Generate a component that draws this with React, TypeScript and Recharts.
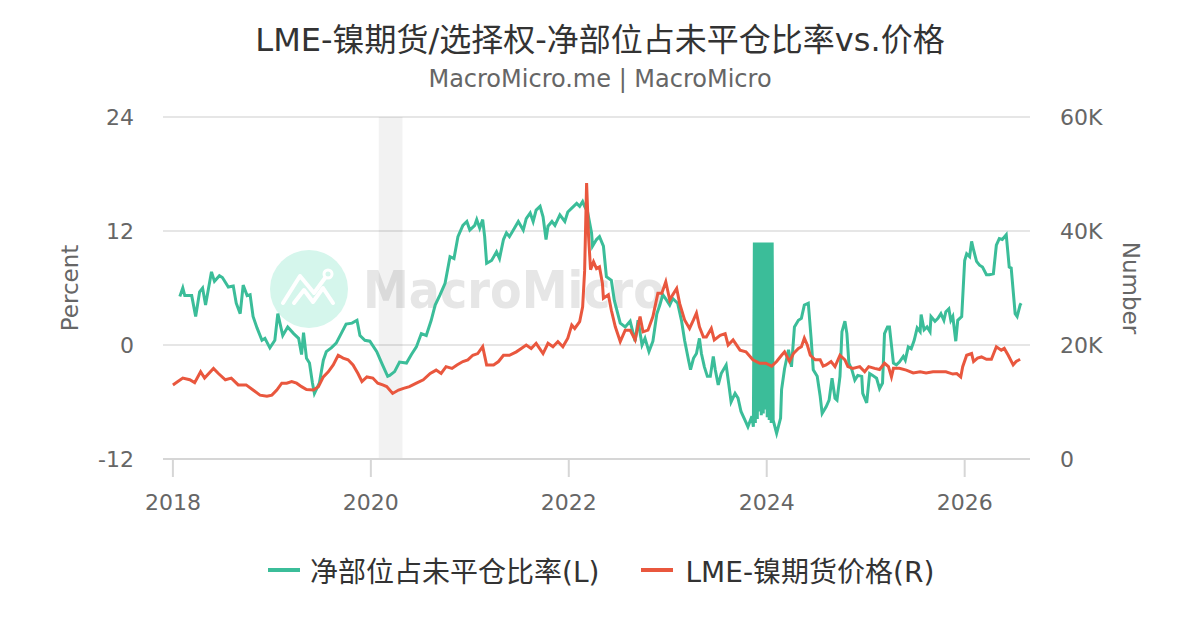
import React from 'react'
import { CartesianGrid, Line, LineChart, ReferenceArea, XAxis, YAxis } from 'recharts'

// 净部位占未平仓比率 (%), dates as decimal years
const netDates = [
  2018.07, 2018.1, 2018.12, 2018.19, 2018.23, 2018.27, 2018.3, 2018.33, 2018.39, 2018.42,
  2018.47, 2018.5, 2018.56, 2018.61, 2018.64, 2018.68, 2018.71, 2018.75, 2018.78, 2018.81,
  2018.85, 2018.9, 2018.93, 2018.98, 2019.03, 2019.06, 2019.11, 2019.16, 2019.22, 2019.27,
  2019.3, 2019.32, 2019.35, 2019.38, 2019.41, 2019.43, 2019.48, 2019.52, 2019.55, 2019.6,
  2019.65, 2019.7, 2019.75, 2019.81, 2019.86, 2019.89, 2019.94, 2019.99, 2020.06, 2020.11,
  2020.17, 2020.19, 2020.24, 2020.29, 2020.36, 2020.41, 2020.46, 2020.51, 2020.56, 2020.61,
  2020.65, 2020.7, 2020.75, 2020.8, 2020.84, 2020.88, 2020.93, 2020.97, 2021.0, 2021.05,
  2021.07, 2021.1, 2021.13, 2021.15, 2021.17, 2021.22, 2021.27, 2021.3, 2021.34, 2021.37,
  2021.4, 2021.44, 2021.49, 2021.54, 2021.57, 2021.61, 2021.64, 2021.67, 2021.71, 2021.74,
  2021.77, 2021.79, 2021.83, 2021.86, 2021.91, 2021.96, 2021.99, 2022.03, 2022.08, 2022.11,
  2022.14, 2022.16, 2022.19, 2022.23, 2022.24, 2022.28, 2022.31, 2022.35, 2022.38, 2022.43,
  2022.46, 2022.52, 2022.57, 2022.62, 2022.67, 2022.7, 2022.74, 2022.77, 2022.81, 2022.85,
  2022.89, 2022.92, 2022.95, 2022.99, 2023.02, 2023.05, 2023.1, 2023.14, 2023.17, 2023.21,
  2023.23, 2023.26, 2023.29, 2023.32, 2023.34, 2023.37, 2023.4, 2023.43, 2023.46, 2023.48,
  2023.51, 2023.54, 2023.59, 2023.62, 2023.64, 2023.68, 2023.71, 2023.74, 2023.78, 2023.81,
  2023.85, 2023.865,
  2023.875, 2023.885, 2023.895, 2023.905, 2023.915, 2023.925, 2023.935, 2023.945, 2023.955,
  2023.965, 2023.975, 2023.985, 2023.995, 2024.005, 2024.015, 2024.025, 2024.035, 2024.045,
  2024.055, 2024.065,
  2024.09, 2024.1, 2024.14, 2024.15, 2024.18, 2024.22, 2024.25, 2024.28, 2024.32, 2024.35,
  2024.38, 2024.42, 2024.45, 2024.47, 2024.51, 2024.54, 2024.56, 2024.6, 2024.63, 2024.66,
  2024.69, 2024.71, 2024.74, 2024.76, 2024.79, 2024.81, 2024.83, 2024.86, 2024.89, 2024.92,
  2024.96, 2024.97, 2025.01, 2025.04, 2025.07, 2025.11, 2025.14, 2025.17, 2025.19, 2025.22,
  2025.24, 2025.28, 2025.31, 2025.34, 2025.38, 2025.4, 2025.43, 2025.46, 2025.49, 2025.52,
  2025.55, 2025.56, 2025.59, 2025.62, 2025.65, 2025.66, 2025.7, 2025.73, 2025.76, 2025.79,
  2025.81, 2025.84, 2025.86, 2025.88, 2025.91, 2025.93, 2025.97, 2026.0, 2026.02, 2026.05,
  2026.07, 2026.09, 2026.12, 2026.15, 2026.18, 2026.22, 2026.25, 2026.29, 2026.32, 2026.35,
  2026.38, 2026.42, 2026.45, 2026.47, 2026.51, 2026.53, 2026.56, 2026.57,
]
const netValues = [
  5.1, 6.0, 5.2, 5.2, 3.0, 5.6, 6.0, 4.2, 7.7, 6.7,
  7.3, 7.1, 6.1, 6.2, 4.4, 3.3, 6.3, 5.2, 5.3, 3.0,
  1.8, 0.5, 0.7, -0.3, 0.5, 3.3, 1.0, 1.9, 1.2, 0.7,
  -1.0, 1.3, -1.4, -1.9, -4.0, -5.1, -4.0, -1.6, -0.7, -0.3,
  0.2, 1.2, 2.2, 2.3, 2.6, 1.0, 0.5, 0.4, -0.7, -1.9,
  -3.3, -3.2, -2.8, -1.8, -1.9, -1.0, -0.2, 1.2, 1.0, 2.6,
  4.2, 5.3, 6.5, 9.3, 9.1, 11.4, 12.6, 13.0, 12.1, 12.6,
  13.2, 12.3, 13.2, 11.4, 8.6, 8.9, 9.8, 9.1, 11.1, 11.8,
  11.4, 12.1, 13.0, 12.1, 13.3, 13.9, 13.0, 14.2, 14.6, 13.5,
  11.1, 12.5, 13.0, 12.6, 13.7, 13.0, 14.0, 14.4, 14.9, 14.6,
  15.1, 14.6, 14.0, 11.8, 10.4, 11.1, 11.4, 10.4, 7.2, 6.8,
  4.7, 2.3, 1.9, 2.5, 0.4, 2.6, 0.0, 0.7, -0.7, 0.4,
  3.3, 4.2, 5.3, 4.7, 4.2, 4.9, 4.4, 2.5, 0.5, -1.6,
  -2.6, -1.4, -0.9, 0.7, -0.9, -2.3, -3.3, -3.3, -1.2, -2.6,
  -4.2, -3.0, -2.1, -4.4, -6.0, -5.1, -5.6, -7.0, -7.9, -8.6,
  -7.5, -8.6,
  10.8, -8.2, 10.8, -7.8, 10.8, -7.0, 10.8, -7.4, 10.8, -7.2,
  10.8, -6.8, 10.8, -7.6, 10.8, -7.9, 10.8, -8.2, 10.8, -7.9,
  -8.9, -9.3, -7.7, -4.7, -2.5, -0.5, -2.3, 1.9, 2.6, 2.8,
  4.2, 4.4, 0.5, -2.6, -3.3, -5.4, -7.2, -6.5, -5.8, -3.5,
  -5.6, -5.8, -3.3, 1.4, 2.5, 1.2, -1.9, -2.6, -3.7, -3.2,
  -3.3, -5.1, -6.1, -3.0, -3.2, -3.5, -4.6, -4.0, 1.2, 1.9,
  1.9, -1.9, -2.1, -1.8, -1.2, -1.6, -0.2, -0.4, 0.5, 1.8,
  1.4, 3.2, 1.6, 1.9, 1.4, 3.0, 2.5, 2.8, 3.3, 2.6,
  3.5, 3.8, 2.6, 3.0, 0.4, 2.6, 3.0, 8.9, 9.6, 9.3,
  10.9, 10.0, 8.8, 8.4, 8.2, 7.4, 7.4, 7.5, 10.5, 11.2,
  11.1, 11.6, 8.2, 8.1, 3.3, 3.0, 4.2, 4.4,
]

// LME-镍期货价格 (USD)
const priceDates = [
  2018.0, 2018.05, 2018.1, 2018.17, 2018.22, 2018.28, 2018.32, 2018.41, 2018.46, 2018.53,
  2018.59, 2018.66, 2018.74, 2018.81, 2018.88, 2018.95, 2019.0, 2019.05, 2019.1, 2019.15,
  2019.2, 2019.25, 2019.3, 2019.35, 2019.42, 2019.47, 2019.52, 2019.57, 2019.62, 2019.67,
  2019.72, 2019.77, 2019.82, 2019.87, 2019.91, 2019.96, 2020.02, 2020.07, 2020.12, 2020.16,
  2020.22, 2020.28, 2020.33, 2020.39, 2020.46, 2020.53, 2020.6, 2020.66, 2020.71, 2020.76,
  2020.82, 2020.87, 2020.93, 2020.98, 2021.03, 2021.08, 2021.13, 2021.17, 2021.24, 2021.29,
  2021.34, 2021.4, 2021.47, 2021.52, 2021.57, 2021.62, 2021.67, 2021.74, 2021.79, 2021.84,
  2021.89, 2021.94, 2021.99, 2022.03, 2022.06, 2022.11, 2022.14, 2022.16, 2022.18, 2022.2,
  2022.22, 2022.25, 2022.28, 2022.31, 2022.34, 2022.35, 2022.4, 2022.43, 2022.47, 2022.52,
  2022.57, 2022.62, 2022.67, 2022.72, 2022.75, 2022.8, 2022.85, 2022.9, 2022.94, 2022.98,
  2023.02, 2023.05, 2023.09, 2023.12, 2023.17, 2023.22, 2023.26, 2023.29, 2023.32, 2023.36,
  2023.39, 2023.44, 2023.47, 2023.53, 2023.58, 2023.61, 2023.66, 2023.73, 2023.79, 2023.86,
  2023.93, 2023.99, 2024.05, 2024.1, 2024.15, 2024.18, 2024.23, 2024.27, 2024.32, 2024.35,
  2024.38, 2024.41, 2024.44, 2024.49, 2024.54, 2024.57, 2024.6, 2024.65, 2024.69, 2024.74,
  2024.79, 2024.82, 2024.87, 2024.94, 2024.99, 2025.03, 2025.09, 2025.14, 2025.19, 2025.23,
  2025.26, 2025.28, 2025.34, 2025.41, 2025.48, 2025.55, 2025.61, 2025.68, 2025.75, 2025.81,
  2025.88, 2025.92, 2025.96, 2025.98, 2026.02, 2026.07, 2026.09, 2026.13, 2026.17, 2026.22,
  2026.27, 2026.32, 2026.37, 2026.4, 2026.44, 2026.49, 2026.52, 2026.56,
]
const priceValues = [
  13000, 13600, 14200, 13900, 13400, 15300, 14200, 15900, 15000, 13900,
  14200, 13000, 13000, 12100, 11200, 11000, 11200, 12100, 13300, 13300,
  13600, 13300, 12700, 12200, 12100, 12700, 14400, 15300, 16500, 18200,
  17700, 17400, 16500, 15000, 13600, 14400, 14200, 13300, 13000, 12700,
  11500, 12100, 12400, 12700, 13300, 13900, 15000, 15600, 15000, 16200,
  15900, 16500, 17100, 17400, 18200, 18500, 19700, 16500, 16500, 17100,
  18200, 18200, 18800, 19400, 20000, 19400, 20300, 18500, 20300, 19700,
  20600, 19700, 21200, 23500, 22900, 24100, 26700, 33000, 48400, 39000,
  33200, 34600, 33400, 33700, 30800, 28200, 28800, 26100, 23200, 20600,
  22600, 22600, 20900, 25000, 22300, 22600, 25000, 29100, 29100, 31100,
  27900, 28800, 29900, 27300, 24400, 22900, 24400, 25600, 23200, 21400,
  21400, 22900, 20900, 21700, 22000, 20000, 20900, 19100, 18800, 17400,
  16800, 16800, 16300, 17100, 18200, 18800, 17100, 18500, 19400, 19700,
  21200, 20000, 18200, 17400, 17400, 16300, 16500, 17100, 16200, 18200,
  17400, 16200, 15900, 16200, 15300, 16200, 15900, 15700, 16800, 16200,
  14400, 15900, 15900, 15600, 15100, 15300, 15100, 15300, 15300, 15300,
  14900, 15000, 14400, 16200, 18200, 18500, 17100, 17700, 17900, 17500,
  17500, 19700, 19100, 19400, 18200, 16500, 17100, 17500,
]

const yearTicks = [2018, 2020, 2022, 2024, 2026]
const percentTicks = [-12, 0, 12, 24]
const numberTicks = [0, 20000, 40000, 60000]

const GREEN = '#3bbd99'
const RED = '#e9573e'
const FONT = "'DejaVu Sans', 'Noto Sans CJK SC', sans-serif"

const netData = netDates.map((x, i) => ({ x, v: netValues[i] }))
const priceData = priceDates.map((x, i) => ({ x, v: priceValues[i] }))

function formatNumber(v: number) {
  return v === 0 ? '0' : `${v / 1000}K`
}

export default function App() {
  const tick = { fontSize: 22, fill: '#666666', fontFamily: FONT }

  return (
    <div
      style={{
        position: 'absolute',
        left: 0,
        top: 0,
        width: 1200,
        height: 630,
        background: '#ffffff',
        fontFamily: FONT,
        overflow: 'hidden',
      }}
    >
      <div style={{ position: 'absolute', top: 14, width: 1200, textAlign: 'center', fontSize: 32, color: '#333333' }}>
        LME-镍期货/选择权-净部位占未平仓比率vs.价格
      </div>
      <div style={{ position: 'absolute', top: 65, width: 1200, textAlign: 'center', fontSize: 24, color: '#666666' }}>
        MacroMicro.me | MacroMicro
      </div>

      {/* watermark, sits under the chart layer */}
      <svg width={1200} height={630} style={{ position: 'absolute', left: 0, top: 0 }}>
        <circle cx={309} cy={289} r={39} fill="#d5f6ec" />
        <polyline
          points="283,303 300,276 314,293 325,278"
          fill="none"
          stroke="#ffffff"
          strokeWidth={4}
          strokeLinecap="round"
          strokeLinejoin="round"
        />
        <polyline
          points="294,303 304,290 313,302 323,288 333,303"
          fill="none"
          stroke="#ffffff"
          strokeWidth={4}
          strokeLinecap="round"
          strokeLinejoin="round"
        />
        <circle cx={328} cy={274} r={4} fill="none" stroke="#ffffff" strokeWidth={3} />
        <text
          x={363}
          y={308}
          fontSize={52}
          fontWeight="bold"
          fill="#e6e6e6"
          fontFamily={FONT}
          textLength={302}
          lengthAdjust="spacingAndGlyphs"
        >
          MacroMicro
        </text>
      </svg>

      <div style={{ position: 'absolute', left: 0, top: 0 }}>
        <LineChart width={1200} height={630} margin={{ top: 117, right: 0, bottom: 0, left: 0 }}>
          <CartesianGrid yAxisId="left" vertical={false} stroke="#e6e6e6" strokeWidth={2} />
          <ReferenceArea
            yAxisId="left"
            x1={2020.08}
            x2={2020.32}
            y1={-12}
            y2={24}
            fill="#000000"
            fillOpacity={0.05}
            stroke="none"
          />
          <XAxis
            dataKey="x"
            type="number"
            domain={[2017.9, 2026.66]}
            ticks={yearTicks}
            allowDataOverflow
            height={171}
            tickSize={18}
            tickMargin={17}
            tick={tick}
            tickLine={{ stroke: '#d6d6d6', strokeWidth: 2 }}
            axisLine={{ stroke: '#d6d6d6', strokeWidth: 2 }}
          />
          <YAxis
            yAxisId="left"
            width={163}
            domain={[-12, 24]}
            ticks={percentTicks}
            tick={tick}
            tickSize={0}
            tickMargin={29}
            axisLine={false}
            tickLine={false}
          />
          <YAxis
            yAxisId="right"
            orientation="right"
            width={170}
            domain={[0, 60000]}
            ticks={numberTicks}
            tickFormatter={formatNumber}
            tick={{ ...tick, textAnchor: 'start' }}
            tickSize={0}
            tickMargin={30}
            axisLine={false}
            tickLine={false}
          />
          <Line
            yAxisId="left"
            data={netData}
            dataKey="v"
            name="净部位占未平仓比率(L)"
            stroke={GREEN}
            strokeWidth={3}
            dot={false}
            isAnimationActive={false}
          />
          <Line
            yAxisId="right"
            data={priceData}
            dataKey="v"
            name="LME-镍期货价格(R)"
            stroke={RED}
            strokeWidth={3}
            dot={false}
            isAnimationActive={false}
          />
        </LineChart>
      </div>

      {/* axis titles */}
      <div
        style={{
          position: 'absolute',
          left: 70,
          top: 288,
          transform: 'translate(-50%, -50%) rotate(-90deg)',
          fontSize: 23,
          color: '#666666',
          whiteSpace: 'nowrap',
        }}
      >
        Percent
      </div>
      <div
        style={{
          position: 'absolute',
          left: 1131,
          top: 288,
          transform: 'translate(-50%, -50%) rotate(90deg)',
          fontSize: 23,
          color: '#666666',
          whiteSpace: 'nowrap',
        }}
      >
        Number
      </div>

      {/* legend */}
      <div
        style={{
          position: 'absolute',
          top: 550,
          left: 268,
          display: 'flex',
          alignItems: 'center',
          fontSize: 28,
          color: '#333333',
          whiteSpace: 'nowrap',
        }}
      >
        <span style={{ display: 'inline-block', width: 32, height: 4, background: GREEN, marginRight: 10 }} />
        <span>净部位占未平仓比率(L)</span>
        <span style={{ display: 'inline-block', width: 32, height: 4, background: RED, marginLeft: 42, marginRight: 12 }} />
        <span>LME-镍期货价格(R)</span>
      </div>
    </div>
  )
}
